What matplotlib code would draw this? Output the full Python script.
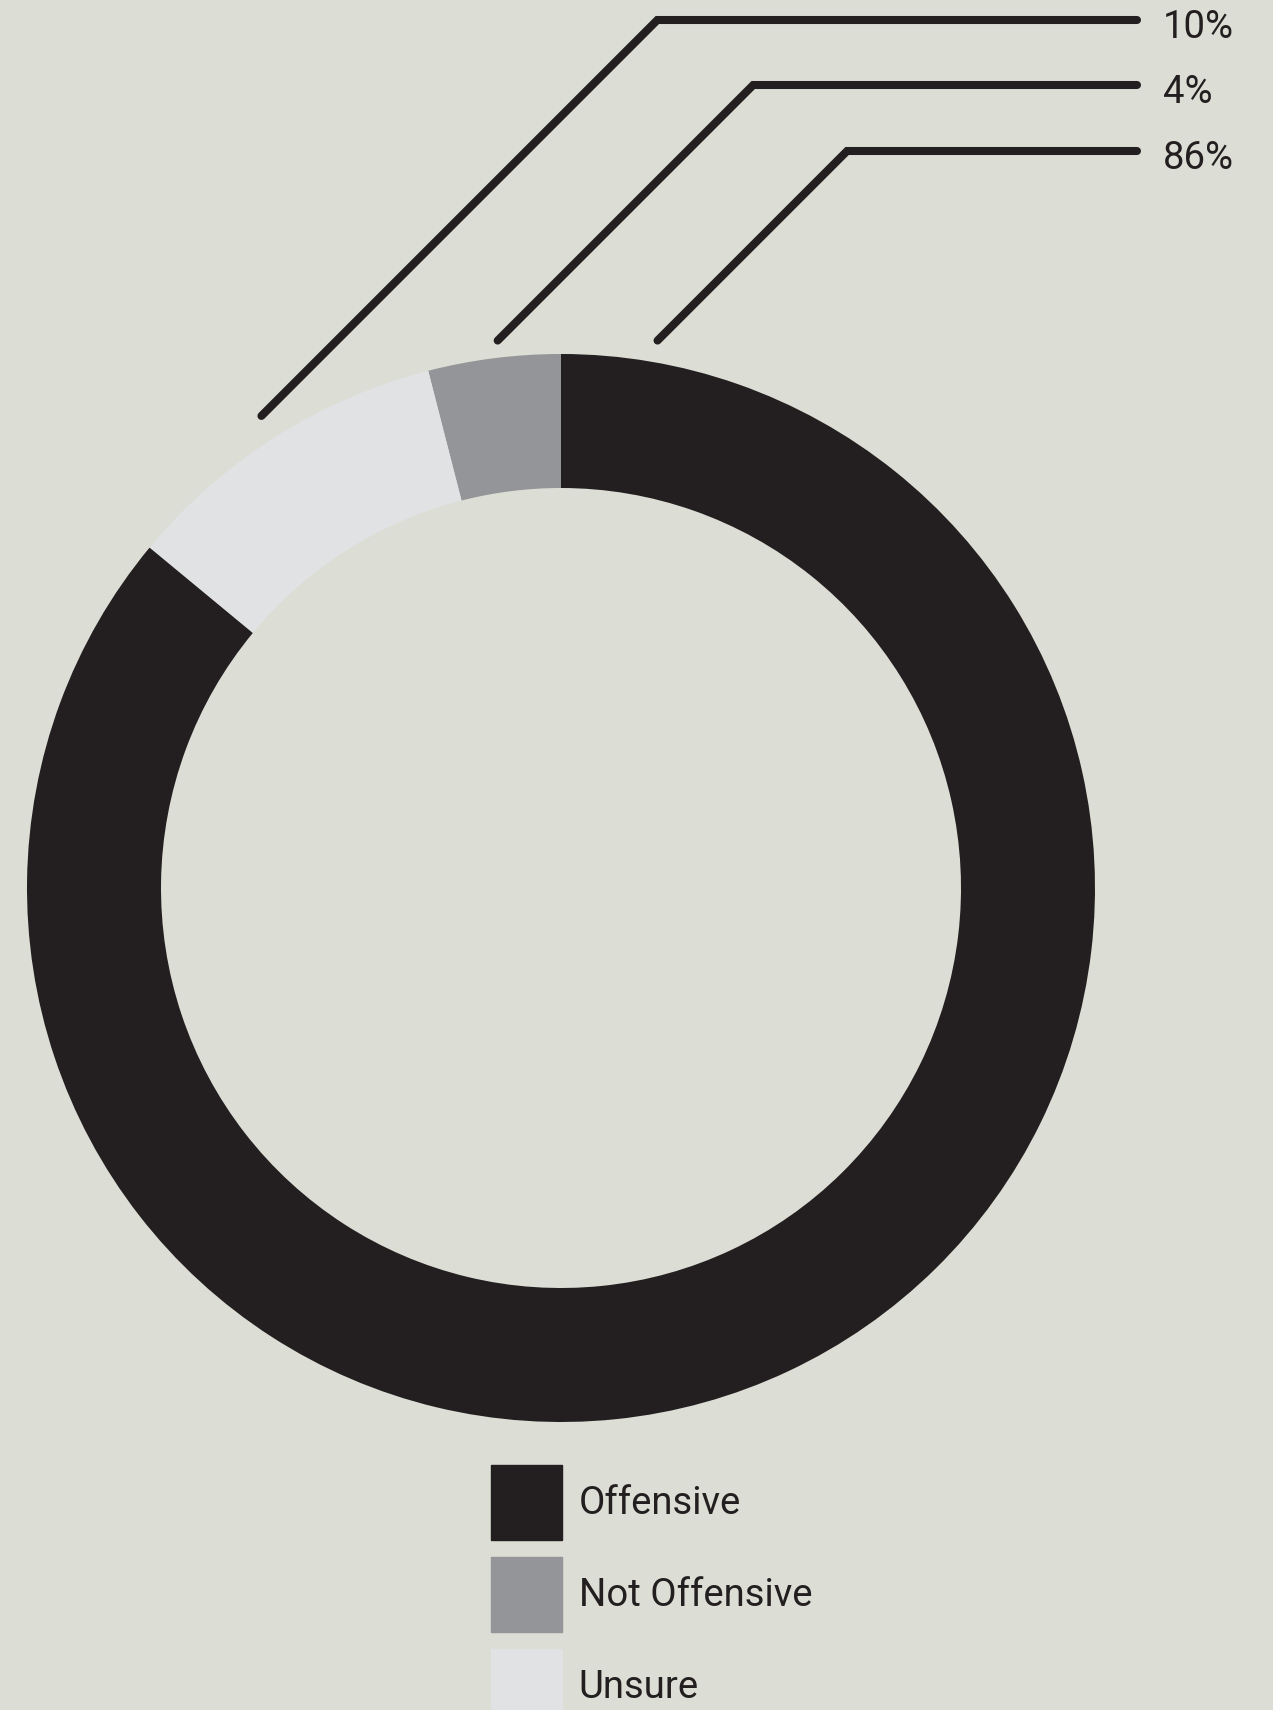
import matplotlib
matplotlib.use("Agg")
import matplotlib.pyplot as plt
import matplotlib.patches as mpatches
import numpy as np

# data
labels = ["Offensive", "Not Offensive", "Unsure"]
values = [86, 4, 10]
colors = ["#231f20", "#939598", "#e1e2e3"]

BG = "#dcddd5"
INK = "#231f20"
W, H = 1273, 1710

plt.rcParams['font.family'] = ['Roboto', 'DejaVu Sans']

fig = plt.figure(figsize=(W / 100, H / 100), dpi=100, facecolor=BG)
ax = fig.add_axes([0, 0, 1, 1])
ax.set_facecolor(BG)

cx, cy, R = 561, H - 888, 534

# wedges drawn counterclockwise from the top: Not Offensive, Unsure, Offensive
order = [1, 2, 0]
wedges, _ = ax.pie([values[i] for i in order], colors=[colors[i] for i in order],
                   startangle=90, counterclock=True, radius=R, center=(cx, cy),
                   wedgeprops=dict(width=R - 400, linewidth=0), frame=True)
ax.set_xlim(0, W)
ax.set_ylim(0, H)
ax.set_aspect('equal')
ax.axis('off')

# leader lines: start angle (deg), start radius factor, label row y (from top), label
mid = {i: (w.theta1 + w.theta2) / 2 for i, w in zip(order, wedges)}
leaders = [(mid[2], 1.047, 20, "10%"),
           (mid[1] - 0.6, 1.032, 85, "4%"),
           (80.0, 1.041, 151, "86%")]
for ang, rf, ytop, txt in leaders:
    x0 = cx + R * rf * np.cos(np.radians(ang))
    y0 = cy + R * rf * np.sin(np.radians(ang))
    ye = H - ytop
    xe = x0 + (ye - y0)
    ax.plot([x0, xe, 1137], [y0, ye, ye], color=INK, lw=5.8,
            solid_capstyle='round', solid_joinstyle='miter')
    ax.text(1163, ye - 8, txt, fontsize=27.5, color=INK, va='center', ha='left')

handles = [mpatches.Patch(color=c, label=l) for c, l in zip(colors, labels)]
fig.legend(handles=handles, loc='upper left', bbox_to_anchor=(491 / W, 1 - 1465 / H),
           frameon=False, fontsize=27.5, labelcolor=INK, borderpad=0, borderaxespad=0,
           handlelength=1.85, handleheight=2.64, handletextpad=0.45, labelspacing=0.45)

fig.savefig("out.png", dpi=100, facecolor=BG)
